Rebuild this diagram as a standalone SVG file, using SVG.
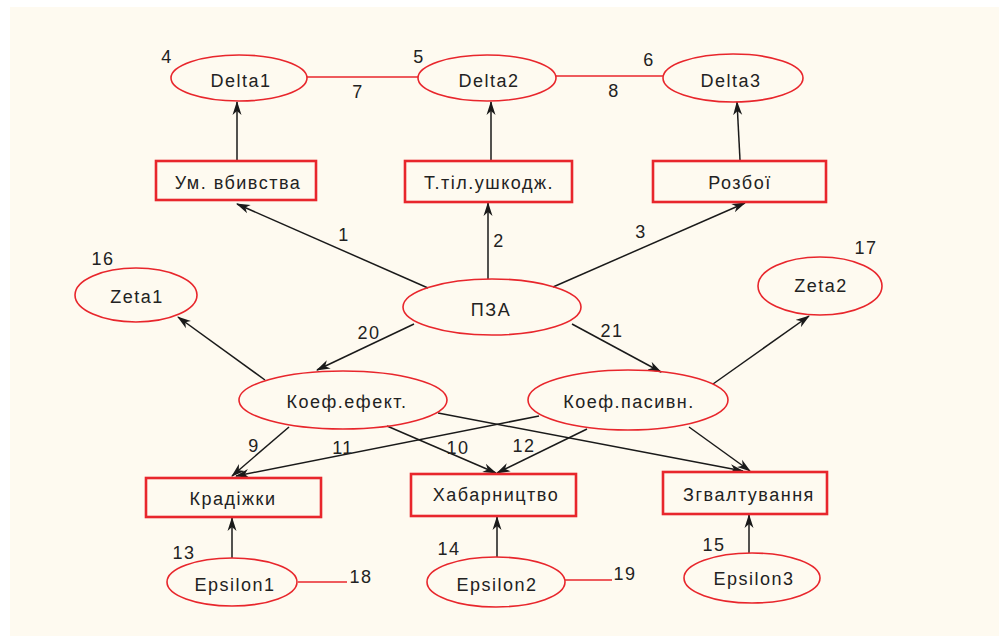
<svg xmlns="http://www.w3.org/2000/svg" width="999" height="636" viewBox="0 0 999 636">
<defs>
<style>
.bg{fill:#fefaf0}
.el{fill:none;stroke:#e8262c;stroke-width:1.6}
.rc{fill:none;stroke:#e8262c;stroke-width:2.6}
.t{font-family:"Liberation Sans",Arial,sans-serif;font-size:18px;letter-spacing:1.5px;fill:#222;text-anchor:middle}
.ar{stroke:#1a1a1a;stroke-width:1.5;fill:none;marker-end:url(#ah)}
.rl{stroke:#e8262c;stroke-width:1.5;fill:none}
</style>
<marker id="ah" viewBox="0 0 14 10" refX="13" refY="5" markerWidth="14" markerHeight="10" markerUnits="userSpaceOnUse" orient="auto">
<path d="M0,0.5 L14,5 L0,9.5 L4,5 z" fill="#1a1a1a"/>
</marker>
</defs>
<rect class="bg" x="10" y="7" width="989" height="629"/>
<g id="connectors">
<line class="rl" x1="307" y1="77" x2="418" y2="77"/>
<line class="rl" x1="556" y1="76" x2="663" y2="76"/>
<line class="ar" x1="237" y1="160" x2="237" y2="102"/>
<line class="ar" x1="491" y1="160" x2="491" y2="102"/>
<line class="ar" x1="740" y1="160" x2="737" y2="102"/>
<line class="ar" x1="428" y1="288" x2="237" y2="204"/>
<line class="ar" x1="488" y1="279" x2="488" y2="203"/>
<line class="ar" x1="553" y1="287" x2="745" y2="203"/>
<line class="ar" x1="414" y1="324" x2="317" y2="370"/>
<line class="ar" x1="572" y1="324" x2="661" y2="372"/>
<line class="ar" x1="265" y1="380" x2="178" y2="317"/>
<line class="ar" x1="713" y1="384" x2="809" y2="316"/>
<line class="ar" x1="289" y1="427" x2="232" y2="476"/>
<line class="ar" x1="539" y1="416" x2="236" y2="476"/>
<line class="ar" x1="387" y1="426" x2="496" y2="473"/>
<line class="ar" x1="587" y1="429" x2="497" y2="473"/>
<line class="ar" x1="438" y1="413" x2="743" y2="471"/>
<line class="ar" x1="689" y1="427" x2="750" y2="471"/>
<line class="ar" x1="232" y1="558" x2="232" y2="518"/>
<line class="ar" x1="497" y1="557" x2="497" y2="517"/>
<line class="ar" x1="749" y1="553" x2="749" y2="515"/>
<line class="rl" x1="298" y1="582" x2="347" y2="582"/>
<line class="rl" x1="565" y1="580" x2="612" y2="580"/>
</g>
<g id="labels">
<text class="t" x="167" y="63">4</text>
<text class="t" x="419" y="63">5</text>
<text class="t" x="649" y="66">6</text>
<text class="t" x="358" y="98">7</text>
<text class="t" x="614" y="97">8</text>
<text class="t" x="344" y="241">1</text>
<text class="t" x="499" y="247">2</text>
<text class="t" x="641" y="238">3</text>
<text class="t" x="103" y="265">16</text>
<text class="t" x="866" y="254">17</text>
<text class="t" x="369" y="339">20</text>
<text class="t" x="612" y="337">21</text>
<text class="t" x="254" y="452">9</text>
<text class="t" x="343" y="454">11</text>
<text class="t" x="458" y="454">10</text>
<text class="t" x="524" y="452">12</text>
<text class="t" x="184" y="559">13</text>
<text class="t" x="449" y="555">14</text>
<text class="t" x="714" y="551">15</text>
<text class="t" x="361" y="583">18</text>
<text class="t" x="625" y="580">19</text>
</g>
<g id="delta1"><ellipse class="el" cx="239" cy="78" rx="68" ry="23"/><text class="t" x="241" y="87">Delta1</text></g>
<g id="delta2"><ellipse class="el" cx="487" cy="78" rx="69" ry="23"/><text class="t" x="489" y="87">Delta2</text></g>
<g id="delta3"><ellipse class="el" cx="733" cy="78" rx="70" ry="24"/><text class="t" x="731" y="87">Delta3</text></g>
<g id="umvbyvstva"><rect class="rc" x="156" y="161" width="160" height="39"/><text class="t" x="238" y="189">Ум. вбивства</text></g>
<g id="ttil"><rect class="rc" x="405" y="161" width="167" height="41"/><text class="t" x="489" y="189">Т.тіл.ушкодж.</text></g>
<g id="rozboi"><rect class="rc" x="653" y="161" width="173" height="41"/><text class="t" x="740" y="189">Розбої</text></g>
<g id="pza"><ellipse class="el" cx="492" cy="307" rx="89" ry="28"/><text class="t" x="491" y="316">ПЗА</text></g>
<g id="zeta1"><ellipse class="el" cx="136" cy="295" rx="61" ry="27"/><text class="t" x="137" y="303">Zeta1</text></g>
<g id="zeta2"><ellipse class="el" cx="820" cy="286" rx="62" ry="29"/><text class="t" x="821" y="292">Zeta2</text></g>
<g id="koefefekt"><ellipse class="el" cx="343" cy="400" rx="104" ry="29"/><text class="t" x="347" y="408">Коеф.ефект.</text></g>
<g id="koefpasyvn"><ellipse class="el" cx="628" cy="400" rx="100" ry="30"/><text class="t" x="629" y="408">Коеф.пасивн.</text></g>
<g id="kradizhky"><rect class="rc" x="146" y="478" width="175" height="39"/><text class="t" x="233" y="505">Крадіжки</text></g>
<g id="khabarnytstvo"><rect class="rc" x="411" y="474" width="165" height="42"/><text class="t" x="496" y="501">Хабарництво</text></g>
<g id="zgvaltuvannia"><rect class="rc" x="663" y="472" width="164" height="42"/><text class="t" x="749" y="501">Згвалтування</text></g>
<g id="epsilon1"><ellipse class="el" cx="232" cy="582" rx="65" ry="24"/><text class="t" x="235" y="591">Epsilon1</text></g>
<g id="epsilon2"><ellipse class="el" cx="496" cy="582" rx="69" ry="25"/><text class="t" x="497" y="591">Epsilon2</text></g>
<g id="epsilon3"><ellipse class="el" cx="752" cy="578" rx="68" ry="25"/><text class="t" x="754" y="585">Epsilon3</text></g>
</svg>
